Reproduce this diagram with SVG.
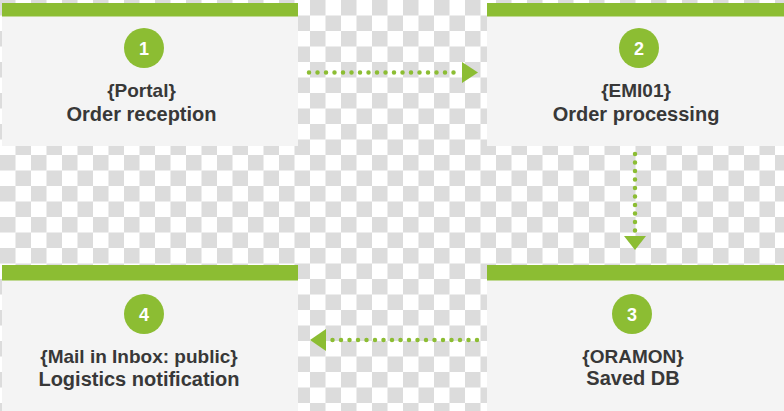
<svg xmlns="http://www.w3.org/2000/svg" width="784" height="411" viewBox="0 0 784 411">
<style>
.box{fill:#f4f4f4}
.bar{fill:#8cbd33}
.num{fill:#8cbd33}
.numt{font-family:"Liberation Sans",Arial,sans-serif;font-weight:bold;font-size:18px;fill:#ffffff;text-anchor:middle}
.l1{font-family:"Liberation Sans",Arial,sans-serif;font-weight:bold;font-size:19px;fill:#383838;text-anchor:middle}
.l2{font-family:"Liberation Sans",Arial,sans-serif;font-weight:bold;font-size:20px;fill:#383838;text-anchor:middle}
.dots{fill:none;stroke:#8cbd33;stroke-width:4.5;stroke-linecap:round;stroke-dasharray:0 8.5}
.head{fill:#8cbd33}
</style>
<defs>
<pattern id="checker" x="0" y="0" width="31" height="31" patternUnits="userSpaceOnUse">
<rect x="0" y="0" width="31" height="31" fill="#ffffff"/>
<rect x="0" y="0" width="15.5" height="15.5" fill="#dcdcdc"/>
<rect x="15.5" y="15.5" width="15.5" height="15.5" fill="#dcdcdc"/>
</pattern>
</defs>
<rect x="0" y="0" width="784" height="411" fill="url(#checker)"/>

<g id="node1">
<rect class="box" x="2" y="3" width="296" height="143"/>
<rect class="bar" x="2" y="3" width="296" height="13.5"/>
<circle class="num" cx="144" cy="48" r="20"/>
<text class="numt" x="144" y="54.5">1</text>
<text class="l1" x="141.5" y="97">{Portal}</text>
<text class="l2" x="141.5" y="121">Order reception</text>
</g>

<g id="node2">
<rect class="box" x="487" y="3" width="297" height="143"/>
<rect class="bar" x="487" y="3" width="297" height="13.5"/>
<circle class="num" cx="639" cy="48" r="20"/>
<text class="numt" x="639" y="54.5">2</text>
<text class="l1" x="636" y="97">{EMI01}</text>
<text class="l2" x="636" y="121">Order processing</text>
</g>

<g id="node3">
<rect class="box" x="487" y="265" width="297" height="146"/>
<rect class="bar" x="487" y="265" width="297" height="15.5"/>
<circle class="num" cx="632" cy="314" r="20"/>
<text class="numt" x="632" y="320.5">3</text>
<text class="l1" x="633" y="363">{ORAMON}</text>
<text class="l2" x="633" y="385">Saved DB</text>
</g>

<g id="node4">
<rect class="box" x="2" y="265" width="296" height="146"/>
<rect class="bar" x="2" y="265" width="296" height="15.5"/>
<circle class="num" cx="144" cy="314" r="20"/>
<text class="numt" x="144" y="320.5">4</text>
<text class="l1" x="139" y="363">{Mail in Inbox: public}</text>
<text class="l2" x="139" y="386">Logistics notification</text>
</g>

<g id="connectors">
<path class="dots" d="M309 72.5 H459"/>
<polygon class="head" points="462,62 478,72.5 462,83"/>
<path class="dots" d="M635 154 V231"/>
<polygon class="head" points="624,236 646,236 635,250"/>
<path class="dots" d="M477 340 H327"/>
<polygon class="head" points="310,340 326,329 326,351"/>
</g>
</svg>
